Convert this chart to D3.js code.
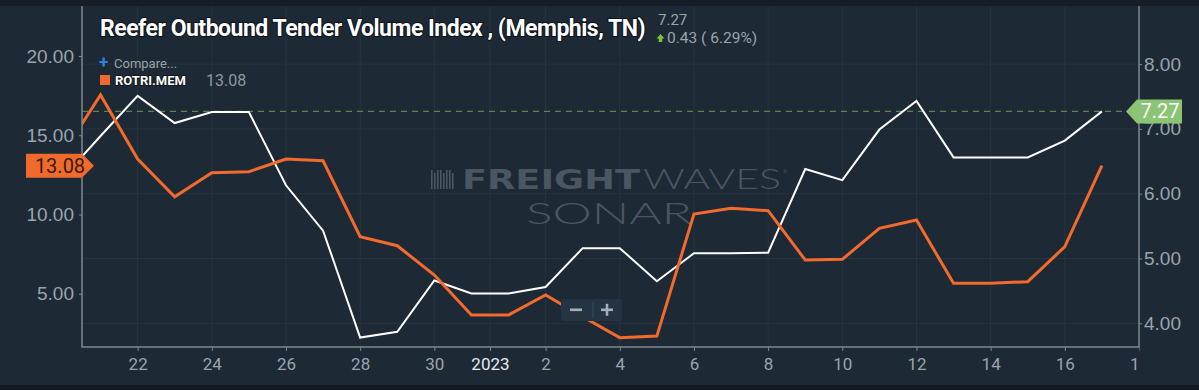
<!DOCTYPE html>
<html>
<head>
<meta charset="utf-8">
<script src="https://cdn.jsdelivr.net/npm/d3@7"></script>
<style>
  body { margin: 0; background: #1d2935; }
  svg { display: block; font-family: Roboto, "Noto Sans", sans-serif; }
</style>
</head>
<body>
<svg id="chart" width="1199" height="390"></svg>
<script>
// dates of the daily points (first one sits just outside the plot)
const dates = ["2022-12-20", "2022-12-21", "2022-12-22", "2022-12-23", "2022-12-24", "2022-12-25",
  "2022-12-26", "2022-12-27", "2022-12-28", "2022-12-29", "2022-12-30", "2022-12-31",
  "2023-01-01", "2023-01-02", "2023-01-03", "2023-01-04", "2023-01-05", "2023-01-06",
  "2023-01-07", "2023-01-08", "2023-01-09", "2023-01-10", "2023-01-11", "2023-01-12",
  "2023-01-13", "2023-01-14", "2023-01-15", "2023-01-16", "2023-01-17"];

// ROTRI.MEM (orange, left axis)
const rotri = [13.9, 17.54, 13.5, 11.12, 12.64, 12.70, 13.5, 13.39, 8.6, 8.03, 6.18, 3.66, 3.66, 4.92,
  3.55, 2.23, 2.33, 10.03, 10.39, 10.24, 7.13, 7.17, 9.13, 9.65, 5.66, 5.66, 5.76, 7.97, 13.08];

// Reefer Outbound Tender Volume Index (white, right axis)
const rotvi = [6.26, 6.89, 7.51, 7.09, 7.26, 7.26, 6.13, 5.43, 3.78, 3.87, 4.66, 4.46, 4.46, 4.56,
  5.16, 5.16, 4.65, 5.08, 5.08, 5.09, 6.38, 6.21, 6.99, 7.43, 6.56, 6.56, 6.56, 6.82, 7.27];

const xTickDates = ["2022-12-22", "2022-12-24", "2022-12-26", "2022-12-28", "2022-12-30", "2022-12-31T12:00",
  "2023-01-02", "2023-01-04", "2023-01-06", "2023-01-08", "2023-01-10", "2023-01-12",
  "2023-01-14", "2023-01-16", "2023-01-18"];
const xTickLabels = ["22", "24", "26", "28", "30", "2023", "2", "4", "6", "8", "10", "12", "14", "16", "18"];
const leftTicks = [5, 10, 15, 20];
const rightTicks = [4, 5, 6, 7, 8];

const lastRotri = 13.08;
const lastRotvi = 7.27;
const change = "0.43 ( 6.29%)";
const title = "Reefer Outbound Tender Volume Index , (Memphis, TN)";

const chart = d3.select("#chart");
const W = 1199, H = 390;
const plot = { left: 82, right: 1139, top: 6, bottom: 347 };

const parse = s => new Date(s.length > 10 ? s : s + "T00:00");
const data = dates.map((d, i) => ({ date: parse(d), rotri: rotri[i], rotvi: rotvi[i] }));

// scales
let x = d3.scaleTime()
  .domain([parse("2022-12-20T12:00"), parse("2023-01-18")])
  .range([plot.left, plot.right]);
let yL = d3.scaleLinear().domain([0, 20]).range([373, 56]);
let yR = d3.scaleLinear().domain([4, 8]).range([323.3, 64.1]);

// backgrounds
chart.append("rect").attr("width", W).attr("height", H).attr("fill", "#1d2935");
chart.append("rect").attr("width", W).attr("height", plot.top).attr("fill", "#151e27");
chart.append("rect").attr("y", 385).attr("width", W).attr("height", H - 385).attr("fill", "#131b22");

const defs = chart.append("defs");
defs.append("clipPath").attr("id", "plotclip").append("rect")
  .attr("x", plot.left).attr("y", plot.top)
  .attr("width", plot.right - plot.left).attr("height", plot.bottom - plot.top);
// in the x axis group's own coordinates (translated to the bottom edge)
defs.append("clipPath").attr("id", "xclip").append("rect")
  .attr("x", 0).attr("y", -2).attr("width", plot.right + 0.5).attr("height", 40);

// grid
chart.append("g").selectAll("line")
  .data(rightTicks).enter().append("line")
  .attr("x1", plot.left).attr("x2", plot.right)
  .attr("y1", d => yR(d)).attr("y2", d => yR(d))
  .attr("stroke", "#273541").attr("stroke-width", 1);
chart.append("g").selectAll("line")
  .data(xTickDates.slice(0, -1)).enter().append("line")
  .attr("x1", d => x(parse(d))).attr("x2", d => x(parse(d)))
  .attr("y1", plot.top).attr("y2", plot.bottom)
  .attr("stroke", "#263440").attr("stroke-width", 1);

// watermark
const wmColor = "#4a5661";
const wm = chart.append("g").attr("fill", wmColor);
const icon = wm.append("g");
[0, 1, 2, 3, 4, 5, 6, 7].forEach(function(i) {
  icon.append("rect").attr("x", 431 + i * 3).attr("y", 170 + (i % 3 === 1 ? 3 : 0))
    .attr("width", 1.6).attr("height", 19 - (i % 3 === 1 ? 3 : 0));
});
wm.append("text").attr("x", 462).attr("y", 189)
  .style("font-family", "'DejaVu Sans', sans-serif").style("font-weight", 700)
  .style("font-size", "26px").attr("textLength", 178).attr("lengthAdjust", "spacingAndGlyphs")
  .text("FREIGHT");
wm.append("text").attr("x", 643).attr("y", 189)
  .style("font-family", "Lato, sans-serif").style("font-weight", 300)
  .style("font-size", "27px").attr("textLength", 138).attr("lengthAdjust", "spacingAndGlyphs")
  .text("WAVES");
wm.append("text").attr("x", 783).attr("y", 174).style("font-size", "5px").text("®");
wm.append("text").attr("x", 526).attr("y", 224)
  .style("font-family", "Lato, sans-serif").style("font-weight", 300)
  .style("font-size", "29px").attr("textLength", 166).attr("lengthAdjust", "spacingAndGlyphs")
  .text("SONAR");

// dashed last value line
chart.append("line")
  .attr("x1", plot.left).attr("x2", 1126)
  .attr("y1", yR(lastRotvi)).attr("y2", yR(lastRotvi))
  .attr("stroke", "#5c8350").attr("stroke-width", 1.2).attr("stroke-dasharray", "6,5");

// series
const lines = chart.append("g").attr("clip-path", "url(#plotclip)");
lines.append("path").datum(data)
  .attr("d", d3.line().x(d => x(d.date)).y(d => yR(d.rotvi)))
  .attr("fill", "none").attr("stroke", "#ffffff").attr("stroke-width", 2)
  .attr("stroke-linejoin", "miter");
lines.append("path").datum(data)
  .attr("d", d3.line().x(d => x(d.date)).y(d => yL(d.rotri)))
  .attr("fill", "none").attr("stroke", "#f26a2c").attr("stroke-width", 3)
  .attr("stroke-linejoin", "miter");

// axes
const axisColor = "#7f8890";
const labelColor = "#9ba4ac";

let xAxis = d3.axisBottom(x)
  .tickValues(xTickDates.map(parse))
  .tickFormat((d, i) => xTickLabels[i])
  .tickSize(4).tickPadding(7);
let xAxisGroup = chart.append("g")
  .attr("transform", "translate(0," + plot.bottom + ")")
  .attr("clip-path", "url(#xclip)")
  .call(xAxis);
xAxisGroup.select(".domain").remove();
xAxisGroup.selectAll("line").attr("stroke", axisColor);
xAxisGroup.selectAll("text")
  .style("font-size", "17px").style("font-family", "Roboto")
  .attr("fill", (d, i) => xTickLabels[i] === "2023" ? "#e6e9ec" : labelColor);

let yAxisL = d3.axisLeft(yL).tickValues(leftTicks).tickFormat(d3.format(".2f"))
  .tickSize(3).tickPadding(5);
let yAxisLGroup = chart.append("g")
  .attr("transform", "translate(" + plot.left + ",0)")
  .call(yAxisL);
yAxisLGroup.select(".domain").remove();
yAxisLGroup.selectAll("line").attr("stroke", axisColor);
yAxisLGroup.selectAll("text").style("font-size", "19px").style("font-weight", 300)
  .attr("fill", labelColor);

let yAxisR = d3.axisRight(yR).tickValues(rightTicks).tickFormat(d3.format(".2f"))
  .tickSize(3).tickPadding(2);
let yAxisRGroup = chart.append("g")
  .attr("transform", "translate(" + plot.right + ",0)")
  .call(yAxisR);
yAxisRGroup.select(".domain").remove();
yAxisRGroup.selectAll("line").attr("stroke", axisColor);
yAxisRGroup.selectAll("text").style("font-size", "19px").style("font-weight", 300)
  .attr("fill", labelColor);

// axis frame
chart.append("path")
  .attr("d", "M" + plot.left + "," + plot.top + "V" + plot.bottom + "H" + plot.right + "V" + plot.top)
  .attr("fill", "none").attr("stroke", axisColor).attr("stroke-width", 1.5);

// last value tags
const yl = yL(lastRotri);
chart.append("path")
  .attr("d", "M26," + (yl - 12) + "H82L94," + yl + "L82," + (yl + 12) + "H26Z")
  .attr("fill", "#f06a2b");
chart.append("text").attr("x", 60).attr("y", yl + 7)
  .attr("text-anchor", "middle").style("font-size", "20px").attr("fill", "#3a1a0c")
  .text(lastRotri.toFixed(2));

const yr = yR(lastRotvi);
chart.append("path")
  .attr("d", "M1126," + yr + "L1137," + (yr - 12) + "H1182V" + (yr + 12) + "H1137Z")
  .attr("fill", "#8bc472");
chart.append("text").attr("x", 1160).attr("y", yr + 7)
  .attr("text-anchor", "middle").style("font-size", "20px").attr("fill", "#ffffff")
  .text(lastRotvi.toFixed(2));

// title - fitted to the reference width by font size and letter spacing
let titleText = chart.append("text").attr("x", 100).attr("y", 36)
  .style("font-size", "23px").style("font-weight", 700)
  .attr("fill", "#ffffff")
  .style("paint-order", "stroke").attr("stroke", "#0d1319").attr("stroke-width", 2)
  .text(title);
let titleLen = titleText.node().getComputedTextLength();
if (titleLen > 545) {
  titleText.style("letter-spacing", Math.max(-0.8, (545 - titleLen) / title.length) + "px");
  titleLen = titleText.node().getComputedTextLength();
  if (titleLen > 545) titleText.style("font-size", (23 * 545 / titleLen) + "px");
}
chart.append("text").attr("x", 658).attr("y", 25)
  .style("font-size", "15px").attr("fill", labelColor).text(lastRotvi.toFixed(2));
chart.append("path").attr("d", "M660.5,34 L664.5,38.5 H662.3 V42 H658.7 V38.5 H656.5Z")
  .attr("fill", "#7cc242");
chart.append("text").attr("x", 667).attr("y", 43)
  .style("font-size", "15.5px").attr("fill", labelColor).text(change);

// legend
chart.append("text").attr("x", 99).attr("y", 68)
  .style("font-size", "17px").style("font-weight", 700).attr("fill", "#2f80e0").text("+");
chart.append("text").attr("x", 114).attr("y", 68)
  .style("font-size", "13px").attr("fill", "#9ba4ac").text("Compare...");
chart.append("rect").attr("x", 100).attr("y", 75).attr("width", 10).attr("height", 10)
  .attr("fill", "#f26a2c");
chart.append("text").attr("x", 115).attr("y", 85)
  .style("font-size", "13px").style("font-weight", 700).attr("fill", "#ffffff")
  .style("paint-order", "stroke").attr("stroke", "#0d1319").attr("stroke-width", 1.5)
  .text("ROTRI.MEM");
chart.append("text").attr("x", 206).attr("y", 86)
  .style("font-size", "16px").attr("fill", "#8f98a0").text(lastRotri.toFixed(2));

// zoom buttons
const zb = chart.append("g");
zb.append("rect").attr("x", 561).attr("y", 299).attr("width", 61).attr("height", 22)
  .attr("rx", 2).attr("fill", "#243443");
zb.append("line").attr("x1", 593).attr("x2", 593).attr("y1", 302).attr("y2", 318)
  .attr("stroke", "#3b4a57");
zb.append("rect").attr("x", 570).attr("y", 308.5).attr("width", 12).attr("height", 2.6)
  .attr("fill", "#a6aeb6");
zb.append("rect").attr("x", 601).attr("y", 308.5).attr("width", 12).attr("height", 2.6)
  .attr("fill", "#a6aeb6");
zb.append("rect").attr("x", 605.7).attr("y", 303.8).attr("width", 2.6).attr("height", 12)
  .attr("fill", "#a6aeb6");
</script>
</body>
</html>
